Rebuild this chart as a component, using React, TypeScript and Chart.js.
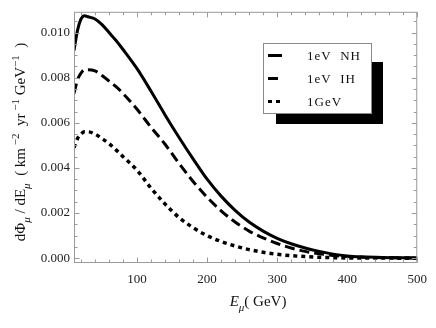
import React, { useEffect, useRef } from 'react';
import { Chart, registerables } from 'chart.js';

Chart.register(...registerables);

// Muon energy (GeV)
const energies = [10, 15, 20, 25, 30, 40, 50, 60, 70, 80, 100, 120, 140, 160, 180, 200, 220, 240, 260, 280, 300, 320, 340, 360, 380, 400, 420, 450, 500];
// dPhi/dE (km^-2 yr^-1 GeV^-1)
const fluxNH = [0.0092, 0.0101, 0.0106, 0.01075, 0.0107, 0.0106, 0.01035, 0.01, 0.00965, 0.00925, 0.0084, 0.0074, 0.00635, 0.00535, 0.0044, 0.0035, 0.00275, 0.00212, 0.0016, 0.0012, 0.00088, 0.00064, 0.00045, 0.0003, 0.00018, 0.0001, 0.00006, 0.00003, 0.00001];
const fluxIH = [0.0073, 0.0079, 0.0082, 0.00835, 0.00835, 0.0083, 0.0081, 0.00785, 0.0076, 0.0073, 0.0066, 0.0058, 0.00505, 0.0042, 0.0034, 0.0027, 0.0021, 0.0016, 0.0012, 0.0009, 0.00065, 0.00045, 0.0003, 0.0002, 0.00012, 0.00007, 0.00004, 0.00002, 0.00001];
const flux1GeV = [0.0049, 0.0053, 0.0055, 0.0056, 0.0056, 0.0055, 0.0053, 0.00508, 0.0048, 0.0045, 0.0039, 0.0031, 0.0024, 0.0018, 0.00135, 0.001, 0.00074, 0.00054, 0.00038, 0.00026, 0.00017, 0.00011, 0.00007, 0.00004, 0.00002, 0.00001, 0.000005, 0.000003, 0.000001];

const seriesLabels = ['1eV  NH', '1eV  IH', '1GeV'];
const xTicks = [100, 200, 300, 400, 500];
const yTicks = [0, 0.002, 0.004, 0.006, 0.008, 0.01];

const X_MIN = 10;
const X_MAX = 500;
const Y_MIN = -0.000214;
const Y_MAX = 0.01092;

type Seg = { t: string; k?: 'sub' | 'sup'; i?: boolean };

function drawRich(ctx: CanvasRenderingContext2D, segs: Seg[], size: number, cx: number, cy: number) {
  const small = Math.round(size * 0.72);
  const fontFor = (s: Seg) => `${s.i ? 'italic ' : ''}${s.k ? small : size}px "Liberation Serif", serif`;
  let total = 0;
  for (const s of segs) {
    ctx.font = fontFor(s);
    total += ctx.measureText(s.t).width;
  }
  let x = cx - total / 2;
  ctx.textBaseline = 'alphabetic';
  ctx.textAlign = 'left';
  for (const s of segs) {
    ctx.font = fontFor(s);
    const dy = s.k === 'sub' ? size * 0.3 : s.k === 'sup' ? -size * 0.45 : 0;
    ctx.fillText(s.t, x, cy + size * 0.35 + dy);
    x += ctx.measureText(s.t).width;
  }
}

const decorPlugin = {
  id: 'decor',
  afterDatasetsDraw(chart: any) {
    const { ctx, chartArea: a, scales } = chart;
    const xs = scales.x;
    const ys = scales.y;
    ctx.save();
    // frame
    ctx.strokeStyle = '#9a9a9a';
    ctx.lineWidth = 1;
    const L = a.left + 0.5, R = a.right - 0.5, T = a.top + 0.5, B = a.bottom - 0.5;
    ctx.strokeRect(L, T, R - L, B - T);
    // ticks
    ctx.beginPath();
    for (let v = 20; v <= 500; v += 20) {
      const px = Math.round(xs.getPixelForValue(v)) + 0.5;
      const len = v % 100 === 0 ? 5 : 3;
      ctx.moveTo(px, B); ctx.lineTo(px, B - len);
      ctx.moveTo(px, T); ctx.lineTo(px, T + len);
    }
    for (let i = 0; i <= 21; i++) {
      const v = i * 0.0005;
      const py = Math.round(ys.getPixelForValue(v)) + 0.5;
      const len = i % 4 === 0 ? 5 : 3;
      ctx.moveTo(L, py); ctx.lineTo(L + len, py);
      ctx.moveTo(R, py); ctx.lineTo(R - len, py);
    }
    ctx.stroke();

    // legend with shadow
    const bx = 263, by = 43, bw = 109, bh = 71;
    ctx.fillStyle = '#000';
    ctx.fillRect(276, 62, 107, 62);
    ctx.fillStyle = '#fff';
    ctx.fillRect(bx, by, bw, bh);
    ctx.strokeStyle = '#8a8a8a';
    ctx.strokeRect(bx + 0.5, by + 0.5, bw - 1, bh - 1);
    const rows = [55.5, 78.5, 101.5];
    chart.data.datasets.forEach((ds: any, i: number) => {
      ctx.strokeStyle = '#000';
      ctx.lineWidth = 3;
      ctx.setLineDash(ds.borderDash || []);
      ctx.beginPath();
      ctx.moveTo(268, rows[i]);
      ctx.lineTo(282, rows[i]);
      ctx.stroke();
      ctx.setLineDash([]);
      ctx.fillStyle = '#111';
      ctx.font = '13px "Liberation Serif", serif';
      (ctx as any).letterSpacing = '1px';
      ctx.textAlign = 'left';
      ctx.textBaseline = 'middle';
      ctx.fillText(ds.label, 307, rows[i] + 1);
      (ctx as any).letterSpacing = '0px';
    });

    // y axis title (rotated)
    ctx.fillStyle = '#111';
    ctx.save();
    ctx.translate(20, 142);
    ctx.rotate(-Math.PI / 2);
    drawRich(ctx, [
      { t: 'dΦ' }, { t: 'μ', k: 'sub', i: true }, { t: ' / dE' }, { t: 'μ', k: 'sub', i: true },
      { t: '  ( km' }, { t: ' −2', k: 'sup' }, { t: '  yr' }, { t: ' −1', k: 'sup' },
      { t: ' GeV' }, { t: '−1', k: 'sup' }, { t: '  )' },
    ], 15, 0, 0);
    ctx.restore();

    // x axis title
    drawRich(ctx, [
      { t: 'E', i: true }, { t: 'μ', k: 'sub', i: true }, { t: '( GeV)' },
    ], 15, 258, 301);
    ctx.restore();
  },
};

export default function App() {
  const ref = useRef<HTMLCanvasElement | null>(null);
  useEffect(() => {
    if (!ref.current) return;
    const mk = (ys: number[]) => energies.map((e, i) => ({ x: e, y: ys[i] }));
    const chart = new Chart(ref.current, {
      type: 'line',
      data: {
        datasets: [
          { label: seriesLabels[0], data: mk(fluxNH), borderColor: '#000', borderWidth: 3, pointRadius: 0, cubicInterpolationMode: 'monotone', borderDash: [] },
          { label: seriesLabels[1], data: mk(fluxIH), borderColor: '#000', borderWidth: 3, pointRadius: 0, cubicInterpolationMode: 'monotone', borderDash: [10, 5] },
          { label: seriesLabels[2], data: mk(flux1GeV), borderColor: '#000', borderWidth: 3.5, pointRadius: 0, cubicInterpolationMode: 'monotone', borderDash: [4, 4] },
        ],
      },
      options: {
        responsive: false,
        animation: false,
        devicePixelRatio: 1,
        layout: { padding: { top: 3, right: 11, left: 0, bottom: 0 } },
        plugins: { legend: { display: false }, tooltip: { enabled: false } },
        scales: {
          x: {
            type: 'linear',
            min: X_MIN,
            max: X_MAX,
            afterBuildTicks: (s: any) => { s.ticks = xTicks.map((v) => ({ value: v })); },
            afterFit: (s: any) => { s.height = 65; },
            grid: { display: false, drawTicks: false },
            border: { display: false },
            ticks: {
              padding: 9,
              color: '#222',
              font: { family: '"Liberation Serif", serif', size: 13 },
              callback: (v: any) => String(v),
              maxRotation: 0,
            },
          },
          y: {
            type: 'linear',
            min: Y_MIN,
            max: Y_MAX,
            afterBuildTicks: (s: any) => { s.ticks = yTicks.map((v) => ({ value: v })); },
            afterFit: (s: any) => { s.width = 74; },
            grid: { display: false, drawTicks: false },
            border: { display: false },
            ticks: {
              padding: 4,
              color: '#222',
              font: { family: '"Liberation Serif", serif', size: 13 },
              callback: (v: any) => Number(v).toFixed(3),
            },
          },
        },
      },
      plugins: [decorPlugin],
    } as any);
    return () => chart.destroy();
  }, []);
  return (
    <div style={{ position: 'absolute', left: 0, top: 0, width: 436, height: 328, background: '#fff' }}>
      <canvas ref={ref} width={436} height={328} />
    </div>
  );
}
